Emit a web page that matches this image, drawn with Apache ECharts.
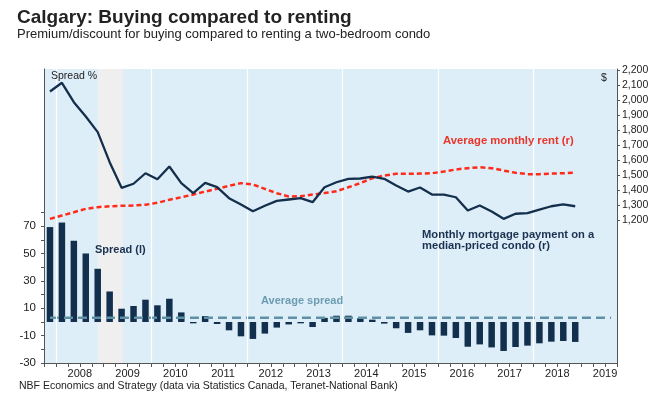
<!DOCTYPE html>
<html>
<head>
<meta charset="utf-8">
<script src="https://cdn.jsdelivr.net/npm/echarts@6/dist/echarts.min.js"></script>
<style>
  html, body { margin: 0; padding: 0; background: #fff; }
  #chart { width: 666px; height: 396px; }
</style>
</head>
<body>
<div id="chart"></div>
<script>
// quarterly data, 2007Q4 .. 2018Q4
const quarters = [
  "2007Q4",
  "2008Q1", "2008Q2", "2008Q3", "2008Q4",
  "2009Q1", "2009Q2", "2009Q3", "2009Q4",
  "2010Q1", "2010Q2", "2010Q3", "2010Q4",
  "2011Q1", "2011Q2", "2011Q3", "2011Q4",
  "2012Q1", "2012Q2", "2012Q3", "2012Q4",
  "2013Q1", "2013Q2", "2013Q3", "2013Q4",
  "2014Q1", "2014Q2", "2014Q3", "2014Q4",
  "2015Q1", "2015Q2", "2015Q3", "2015Q4",
  "2016Q1", "2016Q2", "2016Q3", "2016Q4",
  "2017Q1", "2017Q2", "2017Q3", "2017Q4",
  "2018Q1", "2018Q2", "2018Q3", "2018Q4",
];
// spread % (left axis)
const spread = [
  69.4, 72.7, 59.4, 50.1, 38.9, 22.3, 9.7, 11.7, 16.3, 12.2, 17.0, 7.0,
  -1.0, 4.3, -1.5, -6.1, -10.5, -12.4, -8.5, -4.1, -1.8, -1.0, -3.7,
  3.0, 4.6, 4.6, 2.7, 1.7,
  -1.2, -4.6, -8.0, -6.1, -9.8, -10.0, -11.7, -18.1, -16.4, -18.6, -21.2,
  -18.3, -17.3, -15.6, -14.4, -13.9, -14.6,
];
// monthly mortgage payment, $ (right axis)
const mortgage = [
  2060, 2118, 1989, 1893, 1789, 1589, 1418, 1445, 1515, 1475, 1560, 1449,
  1382, 1451, 1422, 1349, 1307, 1262, 1298, 1331, 1340, 1349, 1322, 1422,
  1455, 1478, 1480, 1493, 1478, 1433, 1393, 1420, 1373, 1373, 1355, 1267,
  1300, 1260, 1211, 1245, 1249, 1273, 1295, 1307, 1295,
];
// average monthly rent, $ (right axis)
const rent = [
  1211, 1233, 1255, 1278, 1289, 1295, 1298, 1300, 1305, 1318, 1338, 1355,
  1373, 1393, 1411, 1431, 1449, 1440, 1411, 1382, 1360, 1362, 1373, 1383,
  1395, 1422, 1449, 1482, 1500, 1511, 1511, 1513, 1515, 1527, 1540, 1549,
  1555, 1549, 1533, 1518, 1509, 1509, 1513, 1515, 1520,
];
const avgSpread = 3;
const years = [2008, 2009, 2010, 2011, 2012, 2013, 2014, 2015, 2016, 2017, 2018, 2019];
const leftLabels = [-30, -10, 10, 30, 50, 70];
const rightLabels = [1200, 1300, 1400, 1500, 1600, 1700, 1800, 1900, 2000, 2100, 2200];

const FONT = "'Liberation Sans', Arial, sans-serif";

// "2009Q3" -> 2009.625 (middle of the quarter)
function qx(q) {
  return +q.slice(0, 4) + (+q.slice(5) - 0.5) / 4;
}

const quarterTicks = [];
for (let t = 2007.75; t <= 2019.76; t += 0.25) quarterTicks.push(+t.toFixed(2));

const chart = echarts.init(document.getElementById("chart"));

chart.setOption({
  animation: false,
  textStyle: { fontFamily: FONT },
  grid: {
    left: 44,
    right: 49,
    top: 69,
    bottom: 33,
    show: true,
    backgroundColor: "#deeef8",
    borderWidth: 0,
  },
  xAxis: {
    type: "value",
    min: 2007.75,
    max: 2019.75,
    axisLine: { onZero: false, lineStyle: { color: "#555", width: 1 } },
    axisTick: {
      customValues: quarterTicks,
      length: 4,
      lineStyle: { color: "#555" },
    },
    axisLabel: {
      customValues: years.map((y) => y + 0.5),
      formatter: (v) => String(Math.floor(v)),
      color: "#222",
      fontSize: 11,
      margin: 5,
      fontFamily: FONT,
    },
    splitLine: { show: false },
  },
  yAxis: [
    {
      type: "value",
      min: -30,
      max: 185,
      interval: 10,
      axisLine: { show: true, lineStyle: { color: "#555", width: 1 } },
      axisTick: {
        show: true,
        customValues: [-30, -20, -10, 0, 10, 20, 30, 40, 50, 60, 70, 80],
        length: 3,
        lineStyle: { color: "#555" },
      },
      axisLabel: {
        customValues: leftLabels,
        color: "#222",
        fontSize: 11.5,
        margin: 8,
        fontFamily: FONT,
      },
      splitLine: { show: false },
    },
    {
      type: "value",
      position: "right",
      min: 250,
      max: 2210,
      axisLine: { show: true, lineStyle: { color: "#555", width: 1 } },
      axisTick: {
        show: true,
        customValues: rightLabels,
        length: 3,
        lineStyle: { color: "#555" },
      },
      axisLabel: {
        customValues: rightLabels,
        formatter: (v) => v.toLocaleString("en-US"),
        color: "#222",
        fontSize: 10.5,
        margin: 5,
        padding: [0, 0, 4, 0],
        fontFamily: FONT,
      },
      splitLine: { show: false },
    },
  ],
  series: [
    {
      // background: recession band and white year gridlines
      name: "bg",
      type: "line",
      data: [],
      silent: true,
      z: 1,
      markArea: {
        silent: true,
        itemStyle: { color: "#efefef" },
        data: [[{ xAxis: 2008.88 }, { xAxis: 2009.4 }]],
      },
      markLine: {
        silent: true,
        symbol: "none",
        label: { show: false },
        lineStyle: { color: "#ffffff", type: "solid", width: 1.2 },
        data: [2008, 2010, 2012, 2014, 2016, 2018].map((y) => ({ xAxis: y })),
      },
    },
    {
      name: "Spread (l)",
      type: "bar",
      yAxisIndex: 0,
      barWidth: 6.5,
      z: 3,
      itemStyle: { color: "#12304d" },
      data: quarters.map((q, i) => [qx(q), spread[i]]),
    },
    {
      name: "Average spread",
      type: "line",
      yAxisIndex: 0,
      z: 4,
      symbol: "none",
      lineStyle: { color: "#5f91a6", width: 2.5, type: [9, 5] },
      data: [[2007.875, avgSpread], [2019.625, avgSpread]],
    },
    {
      name: "Average monthly rent (r)",
      type: "line",
      yAxisIndex: 1,
      z: 5,
      symbol: "none",
      lineStyle: { color: "#ff2a1a", width: 2.5, type: [5, 3] },
      data: quarters.map((q, i) => [qx(q), rent[i]]),
    },
    {
      name: "Monthly mortgage payment",
      type: "line",
      yAxisIndex: 1,
      z: 6,
      symbol: "none",
      lineStyle: { color: "#142f4b", width: 2.3 },
      data: quarters.map((q, i) => [qx(q), mortgage[i]]),
    },
  ],
  graphic: [
    {
      type: "text", x: 17, y: 17.5,
      style: { text: "Calgary: Buying compared to renting", fill: "#222", font: "bold 19px " + FONT, verticalAlign: "middle" },
    },
    {
      type: "text", x: 17, y: 34.5,
      style: { text: "Premium/discount for buying compared to renting a two-bedroom condo", fill: "#222", font: "13px " + FONT, verticalAlign: "middle" },
    },
    {
      type: "text", x: 51, y: 76, z: 10,
      style: { text: "Spread %", fill: "#222", font: "10.5px " + FONT, verticalAlign: "middle" },
    },
    {
      type: "text", x: 604, y: 78, z: 10,
      style: { text: "$", fill: "#222", font: "10.5px " + FONT, verticalAlign: "middle", align: "center" },
    },
    {
      type: "text", x: 443, y: 141, z: 10,
      style: { text: "Average monthly rent (r)", fill: "#e8362a", font: "bold 11.3px " + FONT, verticalAlign: "middle" },
    },
    {
      type: "text", x: 422, y: 240.5, z: 10,
      style: { text: "Monthly mortgage payment on a\nmedian-priced condo (r)", fill: "#1a3150", font: "bold 11.2px " + FONT, verticalAlign: "middle", lineHeight: 11.5 },
    },
    {
      type: "text", x: 95, y: 249.5, z: 10,
      style: { text: "Spread (l)", fill: "#1a3150", font: "bold 11px " + FONT, verticalAlign: "middle" },
    },
    {
      type: "text", x: 261, y: 300.5, z: 10,
      style: { text: "Average spread", fill: "#6b9cb2", font: "bold 11px " + FONT, verticalAlign: "middle" },
    },
    {
      type: "text", x: 19, y: 386.5,
      style: { text: "NBF Economics and Strategy (data via Statistics Canada, Teranet-National Bank)", fill: "#222", font: "10.5px " + FONT, verticalAlign: "middle" },
    },
  ],
});
</script>
</body>
</html>
